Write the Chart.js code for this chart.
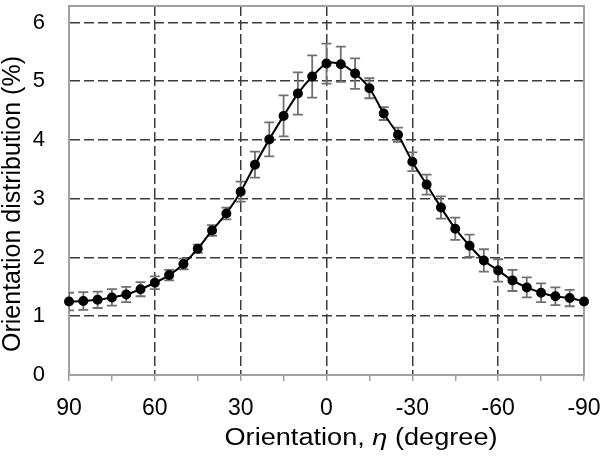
<!DOCTYPE html>
<html>
<head>
<meta charset="utf-8">
<script src="https://cdn.jsdelivr.net/npm/chart.js@4"></script>
<style>
  body { margin:0; background:#fff; }
  #wrap { width:601px; height:457px; position:relative; }
</style>
</head>
<body>
<div id="wrap"><canvas id="c"></canvas></div>
<script>
// ---- data ----
const angles = [90, 85, 80, 75, 70, 65, 60, 55, 50, 45, 40, 35, 30, 25, 20, 15, 10, 5, 0,
  -5, -10, -15, -20, -25, -30, -35, -40, -45, -50, -55, -60, -65, -70, -75, -80, -85, -90];
const dist = [1.25, 1.26, 1.28, 1.32, 1.37, 1.46, 1.57, 1.70, 1.89, 2.15, 2.46, 2.75, 3.12, 3.58, 4.01, 4.41, 4.79, 5.08, 5.30,
  5.29, 5.13, 4.88, 4.45, 4.09, 3.63, 3.24, 2.85, 2.49, 2.20, 1.95, 1.78, 1.61, 1.49, 1.40, 1.34, 1.31, 1.25];
const errs = [0.15, 0.15, 0.14, 0.14, 0.13, 0.12, 0.11, 0.09, 0.09, 0.07, 0.09, 0.10, 0.17, 0.22, 0.29, 0.35, 0.36, 0.36, 0.34,
  0.30, 0.26, 0.17, 0.11, 0.12, 0.16, 0.17, 0.19, 0.19, 0.19, 0.19, 0.19, 0.18, 0.17, 0.16, 0.15, 0.14, 0];
const xTicks = [90, 60, 30, 0, -30, -60, -90];
const xMinor = [90, 75, 60, 45, 30, 15, 0, -15, -30, -45, -60, -75, -90];
const yTicks = [0, 1, 2, 3, 4, 5, 6];

const FONT = "'Liberation Sans', Arial, sans-serif";
const AXIS = "#a0a0a0", GRID = "#3c3c3c";

// error bars + plot frame, drawn under the line
const errorBars = {
  id: "errorBars",
  beforeDatasetsDraw(chart) {
    const {ctx, chartArea: a, scales: {x, y}} = chart;
    ctx.save();
    ctx.strokeStyle = AXIS; ctx.lineWidth = 2;
    ctx.strokeRect(a.left, a.top, a.right - a.left, a.bottom - a.top);
    ctx.beginPath(); ctx.rect(a.left, a.top, a.right - a.left, a.bottom - a.top); ctx.clip();
    ctx.strokeStyle = "#707070"; ctx.lineWidth = 1.8;
    angles.forEach((ang, i) => {
      if (!errs[i]) return;
      const px = x.getPixelForValue(ang);
      const hi = y.getPixelForValue(dist[i] + errs[i]), lo = y.getPixelForValue(dist[i] - errs[i]);
      ctx.beginPath();
      ctx.moveTo(px, hi); ctx.lineTo(px, lo);
      ctx.moveTo(px - 5, hi); ctx.lineTo(px + 5, hi);
      ctx.moveTo(px - 5, lo); ctx.lineTo(px + 5, lo);
      ctx.stroke();
    });
    ctx.restore();
  }
};

// axis titles (x title has italic eta, slightly wide lettering like the source)
const titles = {
  id: "titles",
  afterDraw(chart) {
    const {ctx} = chart;
    const parts = [["Orientation, ", "normal"], ["η", "italic"], [" (degree)", "normal"]];
    ctx.save();
    ctx.fillStyle = "#000"; ctx.textBaseline = "alphabetic";
    ctx.translate(361, 445); ctx.scale(1.18, 1);
    const w = parts.map(p => { ctx.font = p[1] + " 23px " + FONT; return ctx.measureText(p[0]).width; });
    let cx = -w.reduce((s, v) => s + v, 0) / 2;
    parts.forEach((p, i) => { ctx.font = p[1] + " 23px " + FONT; ctx.fillText(p[0], cx, 0); cx += w[i]; });
    ctx.restore();

    ctx.save();
    ctx.fillStyle = "#000"; ctx.textBaseline = "alphabetic"; ctx.textAlign = "center";
    ctx.font = "25px " + FONT;
    ctx.translate(20, 204); ctx.rotate(-Math.PI / 2);
    ctx.fillText("Orientation distribution (%)", 0, 0);
    ctx.restore();
  }
};

new Chart(document.getElementById("c"), {
  type: "line",
  data: {
    datasets: [{
      data: angles.map((a, i) => ({x: a, y: dist[i]})),
      borderColor: "#000", backgroundColor: "#000", borderWidth: 2,
      pointRadius: 4, pointHoverRadius: 4, tension: 0.3, clip: false
    }]
  },
  options: {
    responsive: true, maintainAspectRatio: false, animation: false,
    layout: {padding: {top: 2, right: 17, left: 0, bottom: 0}},
    plugins: {legend: {display: false}, tooltip: {enabled: false}},
    scales: {
      x: {
        type: "linear", reverse: true, min: -90, max: 90,
        afterBuildTicks: s => { s.ticks = xMinor.map(v => ({value: v})); },
        afterFit: s => { s.height = 82; s.paddingLeft = 0; s.paddingRight = 0; },
        ticks: {
          callback: v => xTicks.includes(v) ? String(v) : "",
          color: "#000", font: {family: FONT, size: 23}, padding: 14, maxRotation: 0, autoSkip: false
        },
        grid: {
          color: c => (c.tick && xTicks.includes(c.tick.value) && Math.abs(c.tick.value) !== 90) ? GRID : "transparent",
          tickColor: AXIS, tickLength: 6, lineWidth: 1.5
        },
        border: {color: AXIS, width: 2, dash: [10, 4]}
      },
      y: {
        min: 0, max: 6.28,
        afterBuildTicks: s => { s.ticks = yTicks.map(v => ({value: v})); },
        afterFit: s => { s.width = 69; s.paddingTop = 0; s.paddingBottom = 0; },
        ticks: {color: "#000", font: {family: FONT, size: 22}, padding: 24},
        grid: {
          color: c => (c.tick && c.tick.value > 0) ? GRID : "transparent",
          drawTicks: false, lineWidth: 1.5
        },
        border: {color: AXIS, width: 2, dash: [10, 4]}
      }
    }
  },
  plugins: [errorBars, titles]
});
</script>
</body>
</html>
